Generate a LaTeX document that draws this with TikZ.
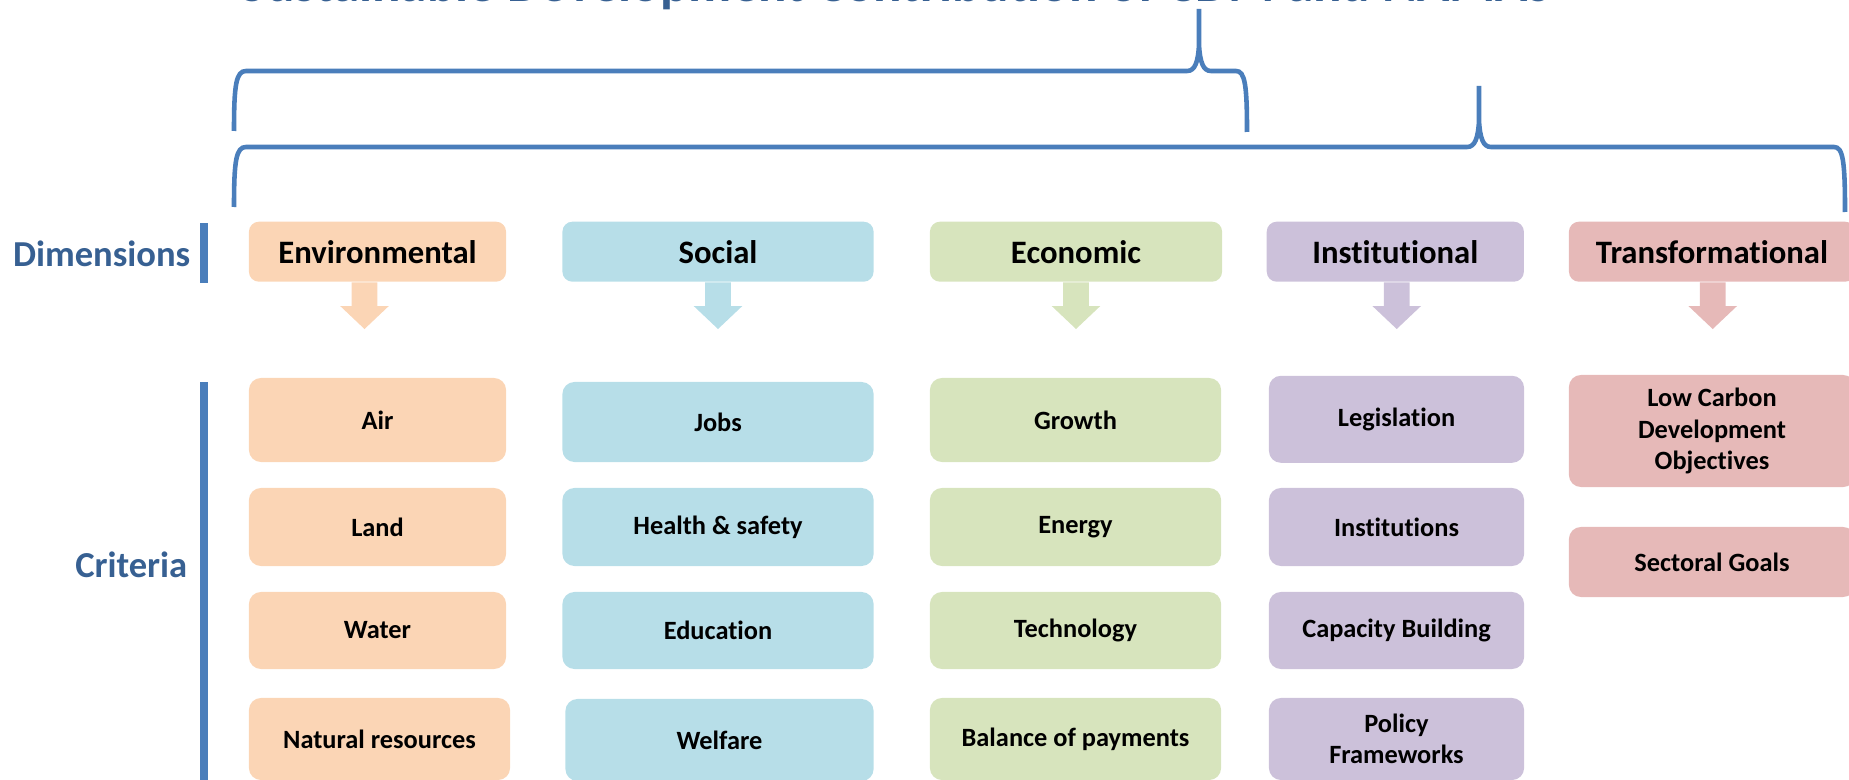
\documentclass[tikz,border=0pt]{standalone}
\usepackage{fontspec}
\setmainfont{Carlito}[Ligatures=NoCommon]
\usetikzlibrary{calc}
\definecolor{ENVFILL}{RGB}{251,213,181}
\definecolor{SOCFILL}{RGB}{183,222,232}
\definecolor{ECOFILL}{RGB}{215,228,189}
\definecolor{INSFILL}{RGB}{204,193,218}
\definecolor{TRNFILL}{RGB}{230,185,184}
\definecolor{BRACECOL}{RGB}{74,126,187}
\definecolor{LABELCOL}{RGB}{55,96,146}
\begin{document}
\begin{tikzpicture}
[
 x=0.01cm, y=-0.01cm,
 inner sep=0.5mm,
 TITLE/.style={font=\fontsize{15.1}{18}\selectfont\bfseries, text=LABELCOL, inner sep=0pt},
 LABEL/.style={font=\fontsize{10.4}{13}\selectfont\bfseries, text=LABELCOL, inner sep=0pt},
 BRACE/.style={draw=BRACECOL, line width=1.3pt},
 DIMBOX/.style={rectangle, rounded corners=0.1cm, minimum height=0.6cm, font=\fontsize{9.3}{11}\selectfont\bfseries},
 CRIT/.style={rectangle, rounded corners=0.12cm, align=center, font=\fontsize{7.5}{9}\selectfont\bfseries},
 ENVBOX/.style={CRIT, fill=ENVFILL, minimum width=2.57cm},
 SOCBOX/.style={CRIT, fill=SOCFILL, minimum width=3.11cm},
 ECOBOX/.style={CRIT, fill=ECOFILL, minimum width=2.91cm},
 INSBOX/.style={CRIT, fill=INSFILL, minimum width=2.55cm},
 TRNBOX/.style={CRIT, fill=TRNFILL, minimum width=2.86cm},
 ]
%
\useasboundingbox (0,0) rectangle (1849,779);
\clip (0,0) rectangle (1849,779);
%
\node [TITLE, anchor=base] (HEAD) at (895,2) {Sustainable Development Contribution of CDM and NAMAs};
%
\draw [BRACE] (234,131) .. controls (234,85) and (236,71) .. (246,71) -- (1187,71)
   .. controls (1195,71) and (1198,62) .. (1199,45) -- (1199,9) -- (1199,45)
   .. controls (1200,62) and (1203,71) .. (1211,71) -- (1236,71)
   .. controls (1245,71) and (1247,85) .. (1247,132);
\draw [BRACE] (234,207) .. controls (234,161) and (236,147) .. (246,147) -- (1467,147)
   .. controls (1475,147) and (1478,138) .. (1479,121) -- (1479,86) -- (1479,121)
   .. controls (1480,138) and (1483,147) .. (1491,147) -- (1834,147)
   .. controls (1843,147) and (1845,161) .. (1845,212);
%
\node [LABEL, anchor=base east] (LDIM)  at (191,266) {Dimensions};
\node [LABEL, anchor=base east] (LCRIT) at (188,577) {Criteria};
\fill [BRACECOL] (200,223.3) rectangle (208,283.3);
\fill [BRACECOL] (200,381.7) rectangle (208,790);
%
\node [DIMBOX, fill=ENVFILL, minimum width=2.57cm] (DENV) at (377.5,251.7) {Environmental};
\node [DIMBOX, fill=SOCFILL, minimum width=3.11cm] (DSOC) at (718,251.7)   {Social};
\node [DIMBOX, fill=ECOFILL, minimum width=2.92cm] (DECO) at (1076,251.7)  {Economic};
\node [DIMBOX, fill=INSFILL, minimum width=2.57cm] (DINS) at (1395.3,251.7) {Institutional};
\node [DIMBOX, fill=TRNFILL, minimum width=2.86cm] (DTRN) at (1712,251.7)  {Transformational};
%
\foreach \name/\dx/\col in {DENV/-13/ENVFILL, DSOC/0/SOCFILL, DECO/0/ECOFILL, DINS/1.4/INSFILL, DTRN/0.7/TRNFILL}
  {
    \fill [\col] ($(\name.south)+(\dx-12.8,0)$) -- ++(0,23.6) -- ++(-11.5,0) -- ++(24.3,23)
       -- ++(24.3,-23) -- ++(-11.5,0) -- ++(0,-23.6) -- cycle;
  }
%
\node [ENVBOX, minimum height=0.84cm] (CENVA) at (377.5,420)   {Air};
\node [ENVBOX, minimum height=0.78cm] (CENVB) at (377.5,527)   {Land};
\node [ENVBOX, minimum height=0.77cm] (CENVC) at (377.5,630.5) {Water};
\node [ENVBOX, minimum height=0.82cm, minimum width=2.61cm] (CENVD) at (379.5,739) {Natural resources};
%
\node [SOCBOX, minimum height=0.80cm] (CSOCA) at (718,422)   {Jobs};
\node [SOCBOX, minimum height=0.78cm] (CSOCB) at (718,527)   {Health \& safety};
\node [SOCBOX, minimum height=0.77cm] (CSOCC) at (718,630.5) {Education};
\node [SOCBOX, minimum height=0.82cm, minimum width=3.08cm] (CSOCD) at (719.5,740) {Welfare};
%
\node [ECOBOX, minimum height=0.84cm] (CECOA) at (1075.5,420)   {Growth};
\node [ECOBOX, minimum height=0.78cm] (CECOB) at (1075.5,527)   {Energy};
\node [ECOBOX, minimum height=0.77cm] (CECOC) at (1075.5,630.5) {Technology};
\node [ECOBOX, minimum height=0.82cm] (CECOD) at (1075.5,739)   {Balance of payments};
%
\node [INSBOX, minimum height=0.87cm] (CINSA) at (1396.5,419.3) {Legislation};
\node [INSBOX, minimum height=0.78cm] (CINSB) at (1396.5,527)   {Institutions};
\node [INSBOX, minimum height=0.77cm] (CINSC) at (1396.5,630.5) {Capacity Building};
\node [INSBOX, minimum height=0.82cm] (CINSD) at (1396.5,739)   {Policy\\Frameworks};
%
\node [TRNBOX, minimum height=1.12cm] (CTRNA) at (1712,431) {Low Carbon\\Development\\Objectives};
\node [TRNBOX, minimum height=0.70cm] (CTRNB) at (1712,562) {Sectoral Goals};
%
\end{tikzpicture}
\end{document}
